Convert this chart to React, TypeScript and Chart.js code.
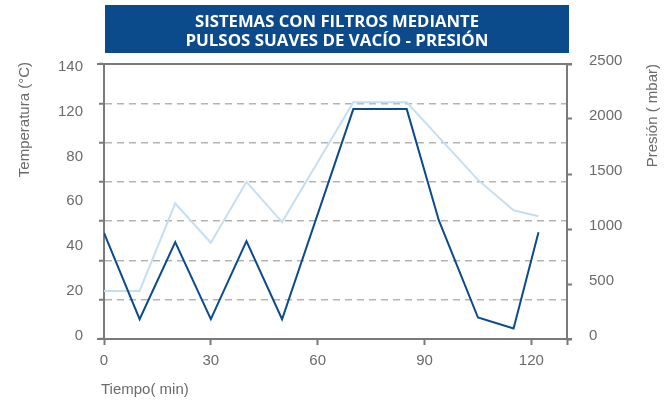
import React, { useEffect, useRef } from "react";
import { Chart, registerables } from "chart.js";

Chart.register(...registerables);

const TITLE_LINES = ["SISTEMAS CON FILTROS MEDIANTE", "PULSOS SUAVES DE VACÍO - PRESIÓN"];
const X_TITLE = "Tiempo( min)";
const Y_LEFT_TITLE = "Temperatura (°C)";
const Y_RIGHT_TITLE = "Presión ( mbar)";

// tick labels
const xTickValues = [0, 30, 60, 90, 120];
const tempTickLabels = ["0", "20", "40", "60", "80", "120", "140"];
const presTickValues = [0, 500, 1000, 1500, 2000, 2500];

// series: temperature (light line)
const tempTime = [0, 10, 20, 30, 40, 50, 70, 85, 105, 115, 122];
const tempValues = [24.5, 24.5, 69, 49, 80, 59.5, 120.5, 120.5, 81, 65.5, 62.5];

// series: pressure (dark line)
const presTime = [0, 10, 20, 30, 40, 50, 70, 85, 94, 105, 115, 122];
const presValues = [965, 180, 880, 180, 890, 180, 2090, 2090, 1080, 195, 95, 970];

const FONT = "'Liberation Sans', Arial, Helvetica, sans-serif";
const TEXT = "#6b6b6b";
const AXIS = "#7a7a7a";
const GRID = "#b3b3b3";
const DARK = "#0b4a8b";
const LIGHT = "#c6def2";

const decor = {
  id: "decor",
  afterDraw(chart: any) {
    const { ctx, chartArea: ca } = chart;
    ctx.save();
    // top and bottom frame lines
    ctx.strokeStyle = AXIS;
    ctx.lineWidth = 2;
    ctx.beginPath();
    ctx.moveTo(ca.left - 7, Math.round(ca.top));
    ctx.lineTo(ca.right + 5, Math.round(ca.top));
    ctx.moveTo(ca.left - 7, Math.round(ca.bottom));
    ctx.lineTo(ca.right + 5, Math.round(ca.bottom));
    ctx.stroke();

    // title box
    ctx.fillStyle = DARK;
    ctx.fillRect(105, 5, 464, 48);
    ctx.fillStyle = "#ffffff";
    ctx.font = "bold 16px 'Open Sans', " + FONT;
    ctx.textAlign = "center";
    ctx.textBaseline = "alphabetic";
    const widths = [284, 303];
    const baselines = [27, 46];
    TITLE_LINES.forEach((t, i) => {
      const w = ctx.measureText(t).width;
      ctx.save();
      ctx.translate(337, baselines[i]);
      ctx.scale(widths[i] / w, 1);
      ctx.fillText(t, 0, 0);
      ctx.restore();
    });

    // axis titles
    ctx.fillStyle = TEXT;
    ctx.font = "15px " + FONT;
    ctx.textAlign = "left";
    ctx.textBaseline = "alphabetic";
    ctx.fillText(X_TITLE, 101, 394);

    ctx.save();
    ctx.translate(29, 62);
    ctx.rotate(-Math.PI / 2);
    ctx.textAlign = "right";
    ctx.fillText(Y_LEFT_TITLE, 0, 0);
    ctx.restore();

    ctx.save();
    ctx.translate(657, 64);
    ctx.rotate(-Math.PI / 2);
    ctx.textAlign = "right";
    ctx.fillText(Y_RIGHT_TITLE, 0, 0);
    ctx.restore();

    ctx.restore();
  },
};

export default function App() {
  const ref = useRef<HTMLCanvasElement | null>(null);

  useEffect(() => {
    if (!ref.current) return;
    const tickFont = { family: FONT, size: 15 };
    const chart = new Chart(ref.current, {
      type: "line",
      data: {
        datasets: [
          {
            label: "Presión",
            data: presTime.map((t, i) => ({ x: t, y: presValues[i] })),
            yAxisID: "yR",
            borderColor: DARK,
            borderWidth: 2,
            pointRadius: 0,
            tension: 0,
            fill: false,
          },
          {
            label: "Temperatura",
            data: tempTime.map((t, i) => ({ x: t, y: tempValues[i] })),
            yAxisID: "yGrid",
            borderColor: LIGHT,
            borderWidth: 2,
            pointRadius: 0,
            tension: 0,
            fill: false,
          },
        ],
      },
      options: {
        animation: false,
        responsive: false,
        layout: { padding: { top: 64, left: 0, right: 0, bottom: 0 } },
        plugins: { legend: { display: false }, tooltip: { enabled: false }, title: { display: false } },
        scales: {
          x: {
            type: "linear",
            position: "bottom",
            min: 0,
            max: 130,
            afterBuildTicks: (s: any) => {
              s.ticks = [...xTickValues, 130].map((v) => ({ value: v }));
            },
            afterFit: (s: any) => {
              s.height = 62;
            },
            ticks: {
              font: tickFont,
              color: TEXT,
              padding: 7,
              maxRotation: 0,
              autoSkip: false,
              callback: (v: any) => (xTickValues.includes(Number(v)) ? String(v) : ""),
            },
            grid: {
              drawOnChartArea: false,
              drawTicks: true,
              tickLength: 6,
              tickColor: AXIS,
              tickWidth: 2,
            },
            border: { display: true, color: AXIS, width: 2 },
          },
          yGrid: {
            type: "linear",
            position: "left",
            weight: 0,
            min: 0,
            max: 140,
            ticks: { display: false, stepSize: 20 },
            afterFit: (s: any) => {
              s.width = 0;
            },
            grid: {
              color: (c: any) =>
                c.tick && (c.tick.value === 0 || c.tick.value === 140) ? "rgba(0,0,0,0)" : GRID,
              lineWidth: 1.5,
              tickLength: 5,
              tickColor: AXIS,
              tickWidth: 2,
            },
            border: { display: true, color: AXIS, width: 2, dash: [7, 5] },
          },
          yLab: {
            type: "linear",
            position: "left",
            weight: 1,
            min: -0.08,
            max: 6.07,
            afterBuildTicks: (s: any) => {
              s.ticks = tempTickLabels.map((_, i) => ({ value: i }));
            },
            afterFit: (s: any) => {
              s.width = 104;
            },
            ticks: {
              font: tickFont,
              color: TEXT,
              padding: 21,
              autoSkip: false,
              callback: (_v: any, i: number) => tempTickLabels[i],
            },
            grid: { display: false, drawTicks: false },
            border: { display: false },
          },
          yR: {
            type: "linear",
            position: "right",
            min: 0,
            max: 2500,
            afterBuildTicks: (s: any) => {
              s.ticks = presTickValues.map((v) => ({ value: v }));
            },
            afterFit: (s: any) => {
              s.width = 104;
            },
            ticks: {
              font: tickFont,
              color: TEXT,
              padding: 17,
              labelOffset: -3,
              autoSkip: false,
              callback: (v: any) => String(v),
            },
            grid: {
              drawOnChartArea: false,
              tickLength: 5,
              tickColor: AXIS,
              tickWidth: 2,
            },
            border: { display: true, color: AXIS, width: 2 },
          },
        },
      } as any,
      plugins: [decor],
    });
    return () => chart.destroy();
  }, []);

  return (
    <div style={{ position: "fixed", left: 0, top: 0, width: 671, height: 401, background: "#fff" }}>
      <canvas ref={ref} width={671} height={401} style={{ display: "block", width: 671, height: 401 }} />
    </div>
  );
}
